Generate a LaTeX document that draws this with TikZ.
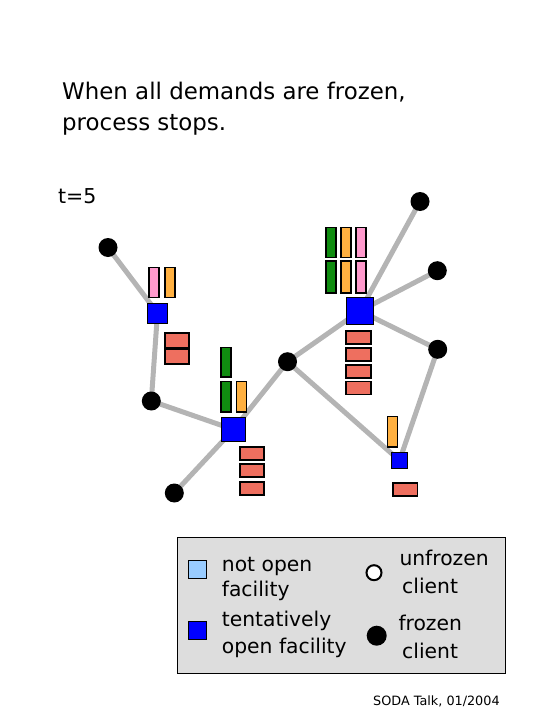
\documentclass[tikz,border=0pt]{standalone}
\usepackage{fontspec}
\setmainfont{DejaVu Sans}
\usetikzlibrary{backgrounds}
\definecolor{fgreen}{HTML}{108C10}
\definecolor{forange}{HTML}{FFB040}
\definecolor{fpink}{HTML}{FF99CC}
\definecolor{fsalmon}{HTML}{EE6F5F}
\definecolor{fblue}{HTML}{0000FF}
\definecolor{edgegray}{HTML}{B4B4B4}
\definecolor{lblue}{HTML}{99CCFF}
\definecolor{legfill}{HTML}{DDDDDD}
\tikzset{
  client/.style={circle, fill=black, inner sep=0pt, minimum size=19pt},
  facility/.style={rectangle, draw=black, line width=0.6pt, fill=fblue, inner sep=0pt},
  bar/.style={rectangle, draw=black, line width=1.7pt, inner sep=0pt},
  vbar/.style={bar, minimum width=10pt},
  hbar/.style={bar, minimum height=13pt, minimum width=24.5pt, fill=fsalmon},
  link/.style={draw=edgegray, line width=5pt},
  txt/.style={anchor=base west, inner sep=0pt}
}
\begin{document}
\begin{tikzpicture}[x=1pt, y=-1pt]
\useasboundingbox (0,0) rectangle (540,720);
% title
\node[txt, font=\fontsize{22.9}{28}\selectfont] (t1) at (62,99.3) {When all demands are frozen,};
\node[txt, font=\fontsize{22.9}{28}\selectfont] (t2) at (62,130.3) {process stops.};
\node[txt, font=\fontsize{20.5}{24}\selectfont] (time) at (58,203) {t=5};
% clients
\node[client] (A) at (108,247.5) {};
\node[client] (B) at (420,201.5) {};
\node[client] (C) at (437.3,270.7) {};
\node[client] (D) at (437.7,349.3) {};
\node[client] (E) at (287.5,361.7) {};
\node[client] (F) at (151.3,401) {};
\node[client] (G) at (174.3,493) {};
% facilities
\node[facility, minimum size=20pt] (F1) at (157.5,313) {};
\node[facility, minimum size=27pt] (F2) at (360,311) {};
\node[facility, minimum size=24pt] (F3) at (233.5,429.5) {};
\node[facility, minimum size=16pt] (F4) at (399.5,460.5) {};
% links
\begin{scope}[on background layer]
\draw[link] (A.center) -- (F1.center);
\draw[link] (F1.center) -- (F.center);
\draw[link] (F.center) -- (F3.center);
\draw[link] (F3.center) -- (G.center);
\draw[link] (F3.center) -- (E.center);
\draw[link] (E.center) -- (F2.center);
\draw[link] (E.center) -- (F4.center);
\draw[link] (F2.center) -- (B.center);
\draw[link] (F2.center) -- (C.center);
\draw[link] (F2.center) -- (D.center);
\draw[link] (D.center) -- (F4.center);
\end{scope}
% bars at F1
\node[vbar, fill=fpink, minimum height=30pt] (p1) at (154.3,282.5) {};
\node[vbar, fill=forange, minimum height=30pt] (o1) at (170.2,282.5) {};
\node[hbar, minimum height=14.5pt] (s1a) at (177,340.5) {};
\node[hbar, minimum height=15pt] (s1b) at (177,356.7) {};
% bars at F2
\node[vbar, fill=fgreen, minimum height=30pt] (g2a) at (330.7,242.5) {};
\node[vbar, fill=fgreen, minimum height=32pt] (g2b) at (330.7,276.7) {};
\node[vbar, fill=forange, minimum height=30pt] (o2a) at (346,242.5) {};
\node[vbar, fill=forange, minimum height=32pt] (o2b) at (346,276.7) {};
\node[vbar, fill=fpink, minimum height=30pt] (p2a) at (361,242.5) {};
\node[vbar, fill=fpink, minimum height=32pt] (p2b) at (361,276.7) {};
\node[hbar, minimum width=25.5pt] (s2a) at (358.5,337.5) {};
\node[hbar, minimum width=25.5pt] (s2b) at (358.5,354.7) {};
\node[hbar, minimum width=25.5pt] (s2c) at (358.5,371.3) {};
\node[hbar, minimum width=25.5pt] (s2d) at (358.5,388) {};
% bars at F3
\node[vbar, fill=fgreen, minimum height=29.5pt] (g3a) at (226.3,362.2) {};
\node[vbar, fill=fgreen, minimum height=30.5pt] (g3b) at (226.3,396.7) {};
\node[vbar, fill=forange, minimum height=30.5pt] (o3) at (241.5,396.7) {};
\node[hbar] (s3a) at (252,453.8) {};
\node[hbar] (s3b) at (252,470.5) {};
\node[hbar] (s3c) at (252,488.3) {};
% bars at F4
\node[vbar, fill=forange, minimum height=30.5pt] (o4) at (392.5,431.7) {};
\node[hbar] (s4) at (405.3,489.5) {};
% legend
\node[draw=black, line width=1pt, fill=legfill, minimum width=328pt, minimum height=136pt, inner sep=0pt] (leg) at (341.5,605.3) {};
\node[rectangle, draw=black, line width=0.6pt, fill=lblue, minimum size=18pt, inner sep=0pt] (lnot) at (197.5,569.5) {};
\node[facility, minimum size=18pt] (lten) at (197.5,630) {};
\node[circle, draw=black, line width=2pt, fill=white, minimum size=15pt, inner sep=0pt] (lunf) at (374,572.7) {};
\node[circle, fill=black, minimum size=20pt, inner sep=0pt] (lfro) at (376.7,635.7) {};
\begin{scope}[font=\fontsize{20.3}{25}\selectfont]
\node[txt] (l1) at (221.7,571) {not open};
\node[txt] (l2) at (221.7,596.7) {facility};
\node[txt] (l3) at (221.7,626.7) {tentatively};
\node[txt] (l4) at (221.7,653.3) {open facility};
\node[txt] (r1) at (399.3,565) {unfrozen};
\node[txt] (r2) at (402,593.3) {client};
\node[txt] (r3) at (398.3,630) {frozen};
\node[txt] (r4) at (402,658.3) {client};
\end{scope}
\node[txt, font=\fontsize{12.8}{16}\selectfont] (foot) at (373,705) {SODA Talk, 01/2004};
\end{tikzpicture}
\end{document}
